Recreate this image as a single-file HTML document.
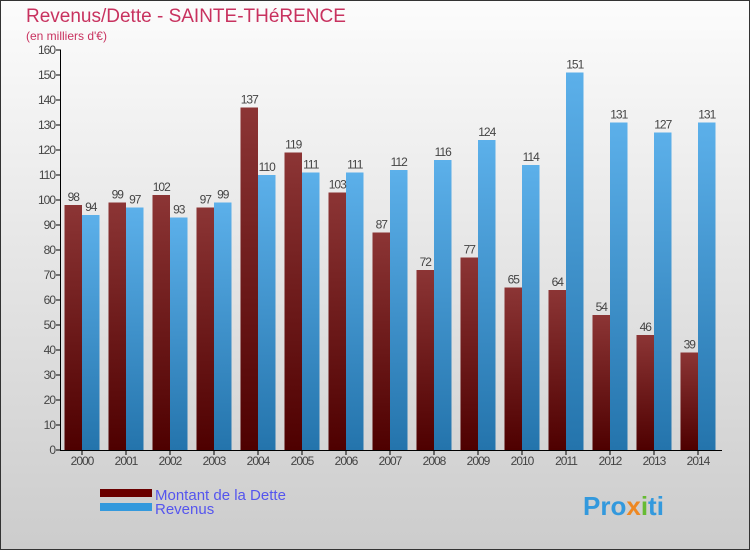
<!DOCTYPE html>
<html><head><meta charset="utf-8"><style>
body{margin:0;width:750px;height:550px;overflow:hidden;font-family:"Liberation Sans",sans-serif}
</style></head><body>
<svg id="c" width="750" height="550" xmlns="http://www.w3.org/2000/svg">
<defs>
<linearGradient id="bg" x1="0" y1="0" x2="0" y2="1"><stop offset="0" stop-color="#fcfcfc"/><stop offset="1" stop-color="#cccccc"/></linearGradient>
<linearGradient id="gd" x1="0" y1="0" x2="0" y2="1"><stop offset="0" stop-color="#8c3535"/><stop offset="1" stop-color="#4e0000"/></linearGradient>
<linearGradient id="gr" x1="0" y1="0" x2="0" y2="1"><stop offset="0" stop-color="#5cb0ea"/><stop offset="1" stop-color="#2474ac"/></linearGradient>
</defs>
<rect x="0.5" y="0.5" width="749" height="549" fill="url(#bg)" stroke="#333"/>
<text x="26" y="22" font-size="19" fill="#c8325f">Revenus/Dette - SAINTE-THéRENCE</text>
<text x="26" y="40" font-size="12" fill="#c8325f">(en milliers d'€)</text>
<g id="plot"></g>
<rect x="100" y="489" width="52" height="8" fill="#6a0000"/>
<rect x="100" y="503" width="52" height="8" fill="#3399dd"/>
<text x="155" y="500" font-size="15" fill="#5555ee">Montant de la Dette</text>
<text x="155" y="514" font-size="15" fill="#5555ee">Revenus</text>
<text x="583" y="515" font-size="26" font-weight="bold" fill="#3399dd">Pro<tspan fill="#ee8822">x</tspan><tspan fill="#66bb33">i</tspan>ti</text>
</svg>
<script>
const years=["2000","2001","2002","2003","2004","2005","2006","2007","2008","2009","2010","2011","2012","2013","2014"];
const dette=[98,99,102,97,137,119,103,87,72,77,65,64,54,46,39];
const revenus=[94,97,93,99,110,111,111,112,116,124,114,151,131,127,131];
const yTicks=[0,10,20,30,40,50,60,70,80,90,100,110,120,130,140,150,160];
const NS="http://www.w3.org/2000/svg";
const g=document.getElementById('plot');
const y0=450,yTop=50,yMax=160,x0=61,pitch=44,bw=17.5;
const Y=v=>y0-(v/yMax)*(y0-yTop);
const X=i=>x0+i*pitch;
function mk(t,a){const e=document.createElementNS(NS,t);for(const k in a)e.setAttribute(k,a[k]);g.appendChild(e);return e;}
yTicks.forEach(v=>{
 const l=mk('line',{x1:56,x2:61,y1:Y(v),y2:Y(v),stroke:'#000'});
 
 
 const t=mk('text',{x:55,y:Y(v)+4,'font-size':12,'text-anchor':'end',fill:'#444','letter-spacing':'-1'});t.textContent=v;
 
 
});
years.forEach((yr,i)=>{
 const xd=X(i)+3.5,xr=xd+bw;
 const a=mk('rect',{x:xd,y:Y(dette[i]),width:bw,height:y0-Y(dette[i]),fill:'url(#gd)'});
 
 
 const b=mk('rect',{x:xr,y:Y(revenus[i]),width:bw,height:y0-Y(revenus[i]),fill:'url(#gr)'});
 
 
 const ta=mk('text',{x:xd+bw/2,y:Y(dette[i])-4,'font-size':12,'text-anchor':'middle',fill:'#444','letter-spacing':'-1'});ta.textContent=dette[i];
 
 
 const tb=mk('text',{x:xr+bw/2,y:Y(revenus[i])-4,'font-size':12,'text-anchor':'middle',fill:'#444','letter-spacing':'-1'});tb.textContent=revenus[i];
 
 
 const tk=mk('line',{x1:xr,x2:xr,y1:450,y2:455,stroke:'#000'});
 
 
 const tx=mk('text',{x:xr,y:465,'font-size':12,'text-anchor':'middle',fill:'#444','letter-spacing':'-1'});tx.textContent=yr;
 
 
});
const ya=mk('line',{x1:60.5,x2:60.5,y1:50,y2:451,stroke:'#000'});


const xa=mk('line',{x1:60,x2:722,y1:450.5,y2:450.5,stroke:'#000'});


</script>
</body></html>
